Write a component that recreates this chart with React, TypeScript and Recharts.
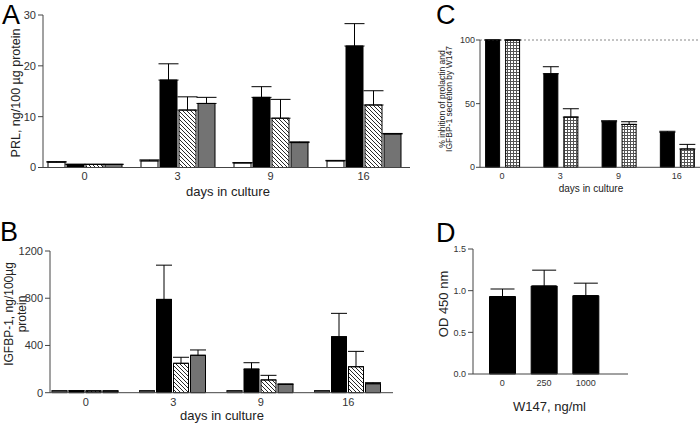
import { BarChart, Bar, XAxis, YAxis, ErrorBar, ReferenceLine } from 'recharts'

const FONT = '"Liberation Sans", Arial, sans-serif'

// A: PRL, ng/100 µg protein
const days = ['0', '3', '9', '16']
const prlWhite = [1.05, 1.3, 0.9, 1.3]
const prlWhiteErr = [0.1, 0.2, 0.05, 0.1]
const prlBlack = [0.6, 17.2, 13.8, 23.9]
const prlBlackErr = [0.05, 3.2, 2.1, 4.4]
const prlHatch = [0.6, 11.3, 9.7, 12.3]
const prlHatchErr = [0.05, 2.6, 3.7, 2.8]
const prlGray = [0.6, 12.6, 4.9, 6.6]
const prlGrayErr = [0.05, 1.2, 0.15, 0.1]

// B: IGFBP-1, ng/100µg protein
const igfWhite = [15, 15, 15, 15]
const igfWhiteErr = [0, 0, 0, 0]
const igfBlack = [17, 790, 200, 474]
const igfBlackErr = [0, 290, 54, 198]
const igfHatch = [15, 249, 108, 220]
const igfHatchErr = [0, 51, 39, 130]
const igfGray = [15, 317, 71, 76]
const igfGrayErr = [0, 45, 3, 9]

// C: % inhibition by W147
const inhibPrl = [100, 73.5, 35.8, 27.5]
const inhibPrlErr = [0, 5.5, 0.8, 0.8]
const inhibIgf = [100, 39.5, 33.7, 14.4]
const inhibIgfErr = [0, 6.5, 2.1, 3.6]

// D: OD 450 nm vs W147 dose
const doses = ['0', '250', '1000']
const od = [0.93, 1.056, 0.94]
const odErr = [0.09, 0.19, 0.15]

const prlTicks = [0, 10, 20, 30]
const igfTicks = [0, 400, 800, 1200]
const inhibTicks = [0, 50, 100]
const odTicks = [0, 0.5, 1, 1.5]

const up = (e: number) => [0, e]

const prlRows = days.map((day, i) => ({
  day,
  white: prlWhite[i], whiteErr: up(prlWhiteErr[i]),
  black: prlBlack[i], blackErr: up(prlBlackErr[i]),
  hatch: prlHatch[i], hatchErr: up(prlHatchErr[i]),
  gray: prlGray[i], grayErr: up(prlGrayErr[i]),
}))

const igfRows = days.map((day, i) => ({
  day,
  white: igfWhite[i], whiteErr: up(igfWhiteErr[i]),
  black: igfBlack[i], blackErr: up(igfBlackErr[i]),
  hatch: igfHatch[i], hatchErr: up(igfHatchErr[i]),
  gray: igfGray[i], grayErr: up(igfGrayErr[i]),
}))

const inhibRows = days.map((day, i) => ({
  day,
  prl: inhibPrl[i], prlErr: up(inhibPrlErr[i]),
  igf: inhibIgf[i], igfErr: up(inhibIgfErr[i]),
}))

const odRows = doses.map((dose, i) => ({ dose, od: od[i], odErr: up(odErr[i]) }))

const axisColor = '#444'
const tickBig = { fontSize: 11, fill: '#333', fontFamily: FONT }
const tickSmall = { fontSize: 9, fill: '#333', fontFamily: FONT }

function Patterns({ id }: { id: string }) {
  return (
    <defs>
      <pattern id={`hatch-${id}`} patternUnits="userSpaceOnUse" width="4" height="4">
        <rect width="4" height="4" fill="#fff" />
        <path d="M-1,-1 L5,5 M-1,3 L1,5 M3,-1 L5,1" stroke="#111" strokeWidth="0.9" />
      </pattern>
      <pattern id={`grid-${id}`} patternUnits="userSpaceOnUse" width="3" height="3">
        <rect width="3" height="3" fill="#fff" />
        <rect width="3" height="1" fill="#555" />
        <rect width="1" height="3" fill="#555" />
      </pattern>
    </defs>
  )
}

function FourBars({ capWidth }: { capWidth: number }) {
  return null && capWidth
}

function PanelA() {
  return (
    <BarChart width={420} height={200} data={prlRows}
      margin={{ top: 15, right: 10, left: 0, bottom: 0 }}
      barCategoryGap={10} barGap={2}>
      <Patterns id="a" />
      <XAxis dataKey="day" height={32.5} tickLine={false} tickSize={3} tickMargin={2}
        tick={tickBig} stroke={axisColor} padding={{ left: -5, right: 0 }} />
      <YAxis width={43} domain={[0, 30]} ticks={prlTicks} tickSize={5} tickMargin={2}
        tick={tickBig} stroke={axisColor} />
      <Bar dataKey="white" fill="#fff" stroke="#000" strokeWidth={1} isAnimationActive={false}>
        <ErrorBar dataKey="whiteErr" width={10} stroke="#000" strokeWidth={1} />
      </Bar>
      <Bar dataKey="black" fill="#000" stroke="#000" strokeWidth={1} isAnimationActive={false}>
        <ErrorBar dataKey="blackErr" width={10} stroke="#000" strokeWidth={1} />
      </Bar>
      <Bar dataKey="hatch" fill="url(#hatch-a)" stroke="#000" strokeWidth={1} isAnimationActive={false}>
        <ErrorBar dataKey="hatchErr" width={10} stroke="#000" strokeWidth={1} />
      </Bar>
      <Bar dataKey="gray" fill="#737373" stroke="#000" strokeWidth={1} isAnimationActive={false}>
        <ErrorBar dataKey="grayErr" width={10} stroke="#000" strokeWidth={1} />
      </Bar>
    </BarChart>
  )
}

function PanelB() {
  return (
    <BarChart width={420} height={223} data={igfRows}
      margin={{ top: 51, right: 27, left: 0, bottom: 0 }}
      barCategoryGap={10} barGap={2}>
      <Patterns id="b" />
      <XAxis dataKey="day" height={30.3} tickLine={false} tickSize={3} tickMargin={2}
        tick={tickBig} stroke={axisColor} padding={{ left: -8, right: 1 }} />
      <YAxis width={50} domain={[0, 1200]} ticks={igfTicks} tickSize={5} tickMargin={2}
        tick={tickBig} stroke={axisColor} />
      <Bar dataKey="white" fill="#fff" stroke="#555" strokeWidth={1} isAnimationActive={false}>
        <ErrorBar dataKey="whiteErr" width={8} stroke="#000" strokeWidth={1} />
      </Bar>
      <Bar dataKey="black" fill="#000" stroke="#000" strokeWidth={1} isAnimationActive={false}>
        <ErrorBar dataKey="blackErr" width={8} stroke="#000" strokeWidth={1} />
      </Bar>
      <Bar dataKey="hatch" fill="url(#hatch-b)" stroke="#000" strokeWidth={1} isAnimationActive={false}>
        <ErrorBar dataKey="hatchErr" width={8} stroke="#000" strokeWidth={1} />
      </Bar>
      <Bar dataKey="gray" fill="#737373" stroke="#000" strokeWidth={1} isAnimationActive={false}>
        <ErrorBar dataKey="grayErr" width={8} stroke="#000" strokeWidth={1} />
      </Bar>
    </BarChart>
  )
}

function PanelC() {
  return (
    <BarChart width={290} height={200} data={inhibRows}
      margin={{ top: 40, right: 4, left: 0, bottom: 0 }}
      barCategoryGap={12.6} barGap={6}>
      <Patterns id="c" />
      <XAxis dataKey="day" height={32.7} tickLine={false} tickSize={3} tickMargin={2}
        tick={tickSmall} stroke={axisColor} padding={{ left: -7, right: 0 }} />
      <YAxis width={60} domain={[0, 100]} ticks={inhibTicks} tickSize={4} tickMargin={1}
        tick={tickSmall} stroke={axisColor} />
      <ReferenceLine y={100} stroke="#888" strokeDasharray="2 2" />
      <Bar dataKey="prl" fill="#000" stroke="#000" strokeWidth={1} isAnimationActive={false}>
        <ErrorBar dataKey="prlErr" width={8} stroke="#000" strokeWidth={1} />
      </Bar>
      <Bar dataKey="igf" fill="url(#grid-c)" stroke="#000" strokeWidth={1} isAnimationActive={false}>
        <ErrorBar dataKey="igfErr" width={8} stroke="#000" strokeWidth={1} />
      </Bar>
    </BarChart>
  )
}

function PanelD() {
  return (
    <BarChart width={280} height={223} data={odRows}
      margin={{ top: 49, right: 72, left: 0, bottom: 0 }}
      barCategoryGap={8}>
      <XAxis dataKey="dose" height={49} tickLine={false} tickSize={3} tickMargin={3}
        tick={tickSmall} stroke={axisColor} padding={{ left: 8.5, right: 21.5 }} />
      <YAxis width={53} domain={[0, 1.5]} ticks={odTicks} tickSize={5} tickMargin={2}
        tick={tickSmall} stroke={axisColor} tickFormatter={(v: number) => v.toFixed(1)} />
      <Bar dataKey="od" fill="#000" stroke="#000" strokeWidth={1} isAnimationActive={false}>
        <ErrorBar dataKey="odErr" width={12} stroke="#000" strokeWidth={1} />
      </Bar>
    </BarChart>
  )
}

function Labels() {
  const t = { fontFamily: FONT, fill: '#222' }
  return (
    <svg width={700} height={423} style={{ position: 'absolute', left: 0, top: 0, pointerEvents: 'none' }}>
      <text x={2} y={24} fontSize={27} {...t} fill="#000">A</text>
      <text x={0} y={241} fontSize={27} {...t} fill="#000">B</text>
      <text x={436} y={24} fontSize={27} {...t} fill="#000">C</text>
      <text x={436} y={242} fontSize={27} {...t} fill="#000">D</text>

      <text transform="translate(16,93) rotate(-90)" textAnchor="middle" dominantBaseline="central" fontSize={12.5} {...t}>
        PRL, ng/100 µg protein
      </text>
      <text x={228} y={191} textAnchor="middle" dominantBaseline="central" fontSize={13} {...t}>days in culture</text>

      <text transform="translate(9,314) rotate(-90)" textAnchor="middle" dominantBaseline="central" fontSize={12} {...t}>
        IGFBP-1, ng/100µg
      </text>
      <text transform="translate(22,314) rotate(-90)" textAnchor="middle" dominantBaseline="central" fontSize={12} {...t}>
        protein
      </text>
      <text x={222} y={415} textAnchor="middle" dominantBaseline="central" fontSize={13} {...t}>days in culture</text>

      <text transform="translate(441.5,99) rotate(-90)" textAnchor="middle" dominantBaseline="central" fontSize={8.5} {...t}>
        % inhition of prolactin and
      </text>
      <text transform="translate(449,99) rotate(-90)" textAnchor="middle" dominantBaseline="central" fontSize={8.5} {...t}>
        IGFBP-1 secretion by W147
      </text>
      <text x={591} y={188} textAnchor="middle" dominantBaseline="central" fontSize={10} {...t}>days in culture</text>

      <text transform="translate(443,304) rotate(-90)" textAnchor="middle" dominantBaseline="central" fontSize={13} {...t}>
        OD 450 nm
      </text>
      <text x={549.5} y={406} textAnchor="middle" dominantBaseline="central" fontSize={13} {...t}>W147, ng/ml</text>
    </svg>
  )
}

export default function App() {
  void FourBars
  return (
    <div style={{ position: 'absolute', left: 0, top: 0, width: 700, height: 423, overflow: 'hidden', background: '#fff', fontFamily: FONT }}>
      <div style={{ position: 'absolute', left: 0, top: 0 }}><PanelA /></div>
      <div style={{ position: 'absolute', left: 0, top: 200 }}><PanelB /></div>
      <div style={{ position: 'absolute', left: 420, top: 0 }}><PanelC /></div>
      <div style={{ position: 'absolute', left: 420, top: 200 }}><PanelD /></div>
      <Labels />
    </div>
  )
}
